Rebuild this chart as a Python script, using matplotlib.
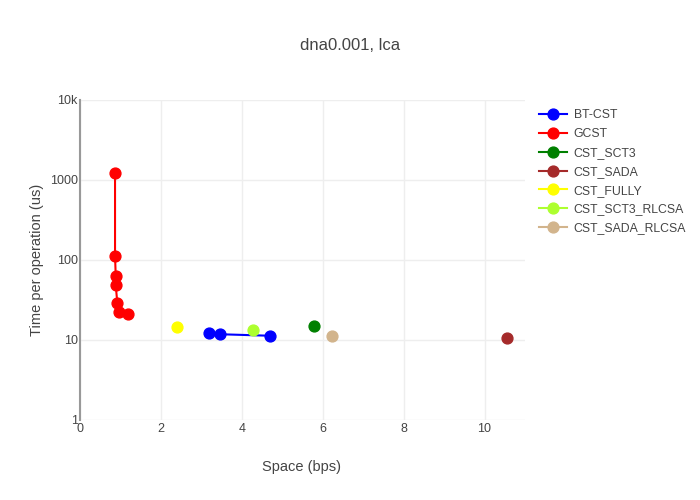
import matplotlib
matplotlib.use("Agg")
import matplotlib.pyplot as plt
from matplotlib.ticker import FixedLocator, NullLocator

plt.rcParams['font.family'] = ['Liberation Sans', 'DejaVu Sans']

names = ["BT-CST", "GCST", "CST_SCT3", "CST_SADA", "CST_FULLY", "CST_SCT3_RLCSA", "CST_SADA_RLCSA"]
colors = ["#0000ff", "#ff0000", "#008000", "#a52a2a", "#ffff00", "#adff2f", "#d2b48c"]

bt_x = [3.20, 3.47, 4.70]
bt_y = [12.1, 11.8, 11.3]
gcst_x = [0.866, 0.866, 0.883, 0.883, 0.923, 0.965, 1.196]
gcst_y = [1213, 113, 63.7, 48.7, 28.8, 22.2, 21.1]
sct3_x = [5.78]
sct3_y = [15.0]
sada_x = [10.56]
sada_y = [10.5]
fully_x = [2.41]
fully_y = [14.7]
sct3r_x = [4.27]
sct3r_y = [13.5]
sadar_x = [6.23]
sadar_y = [11.2]

xs = [bt_x, gcst_x, sct3_x, sada_x, fully_x, sct3r_x, sadar_x]
ys = [bt_y, gcst_y, sct3_y, sada_y, fully_y, sct3r_y, sadar_y]

xticks = [0, 2, 4, 6, 8, 10]
yticks = [1, 10, 100, 1000, 10000]
ytick_labels = ["1", "10", "100", "1000", "10k"]

fig = plt.figure(figsize=(7, 5), dpi=100)
ax = fig.add_axes([80/700, 80/500, 445/700, 320/500])

for n, c, x, y in zip(names, colors, xs, ys):
    ax.plot(x, y, '-o', color=c, lw=1.5, markersize=7.8, label=n, clip_on=False, zorder=3)

ax.set_yscale('log')
ax.set_xlim(0, 11.0)
ax.set_ylim(1, 10000)
ax.xaxis.set_major_locator(FixedLocator(xticks))
ax.yaxis.set_major_locator(FixedLocator(yticks))
ax.yaxis.set_minor_locator(NullLocator())
ax.set_yticklabels(ytick_labels)
ax.grid(True, color='#eeeeee', lw=1, zorder=0)
for s in ['top', 'right', 'bottom']:
    ax.spines[s].set_visible(False)
ax.spines['left'].set_color('#999999')
ax.spines['left'].set_linewidth(1.5)
ax.tick_params(length=0, labelsize=9, labelcolor='#444444')
ax.tick_params(axis='y', pad=1.5)
ax.tick_params(axis='x', pad=2)

fig.text(302/700, 1 - 467/500, "Space (bps)", ha='center', va='center', fontsize=10.5, color='#444444')
fig.text(37/700, 1 - 260/500, "Time per operation (us)", ha='center', va='center', rotation=90,
         fontsize=10.5, color='#444444')
fig.text(350/700, 1 - 45/500, "dna0.001, lca", ha='center', va='center', fontsize=12, color='#444444')

leg = ax.legend(loc='upper left', bbox_to_anchor=(532/445 - 80/445, 1 - 2/320), frameon=False,
                fontsize=8.8, labelcolor='#444444', handlelength=2.3, handletextpad=0.5,
                labelspacing=0.56, borderaxespad=0.2)

fig.savefig("out.png", dpi=100)
